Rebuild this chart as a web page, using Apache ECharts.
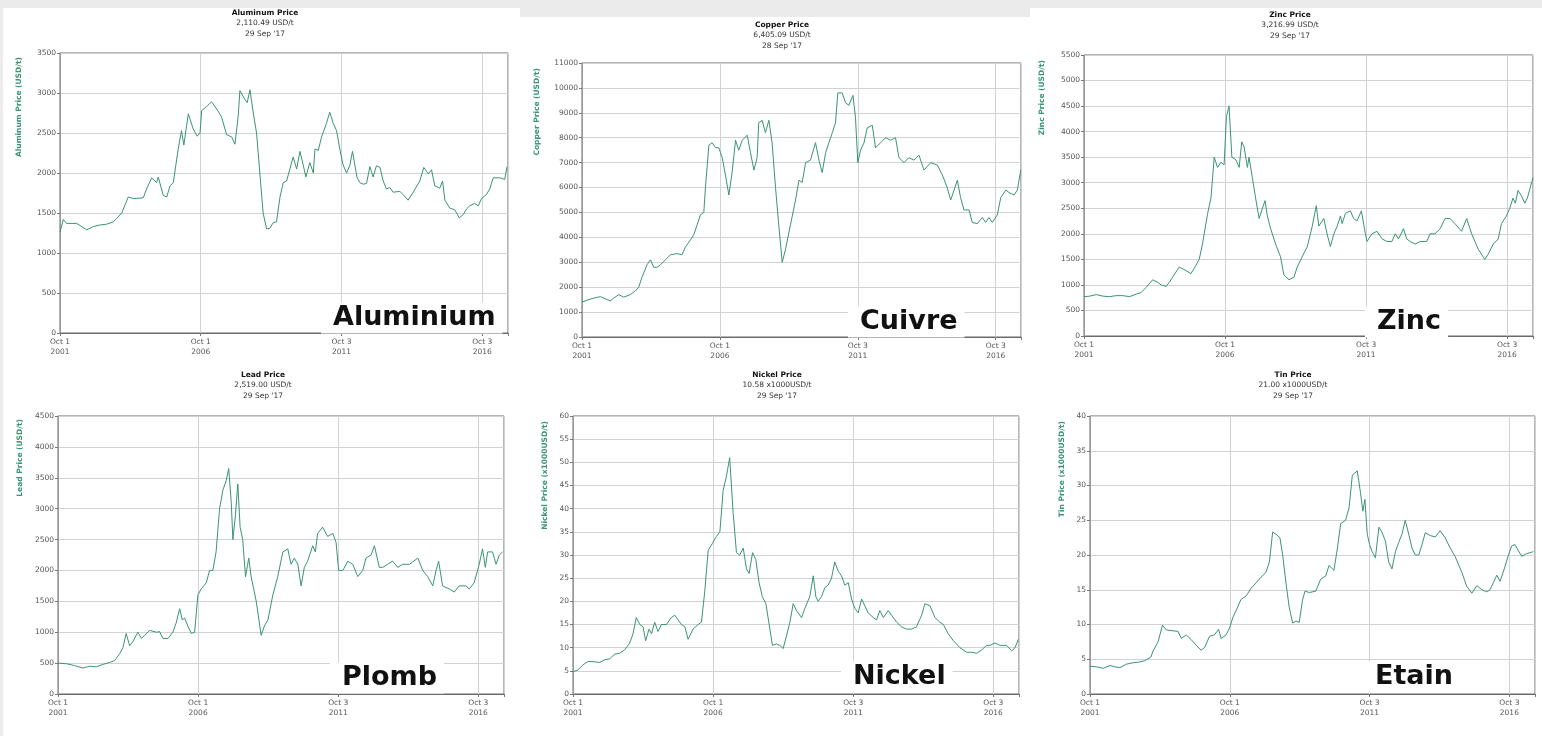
<!DOCTYPE html>
<html>
<head>
<meta charset="utf-8">
<script src="https://cdn.jsdelivr.net/npm/echarts@6/dist/echarts.min.js"></script>
<style>
html,body{margin:0;padding:0;background:#fff;}
#c{width:1542px;height:736px;}
</style>
</head>
<body>
<div id="c"></div>
<script>
// x values are months since 1 Oct 2001
const monthTickLabels = ['Oct 1\n2001', 'Oct 1\n2006', 'Oct 3\n2011', 'Oct 3\n2016'];
const titles = ['Aluminum Price', 'Copper Price', 'Zinc Price', 'Lead Price', 'Nickel Price', 'Tin Price'];
const lastValues = ['2,110.49 USD/t', '6,405.09 USD/t', '3,216.99 USD/t', '2,519.00 USD/t', '10.58 x1000USD/t', '21.00 x1000USD/t'];
const lastDates = ["29 Sep '17", "28 Sep '17", "29 Sep '17", "29 Sep '17", "29 Sep '17", "29 Sep '17"];
const axisNames = ['Aluminum Price (USD/t)', 'Copper Price (USD/t)', 'Zinc Price (USD/t)', 'Lead Price (USD/t)', 'Nickel Price (x1000USD/t)', 'Tin Price (x1000USD/t)'];
const frenchNames = ['Aluminium', 'Cuivre', 'Zinc', 'Plomb', 'Nickel', 'Etain'];
const yMax = [3500, 11000, 5500, 4500, 60, 40];
const yStep = [500, 1000, 500, 500, 5, 5];

const aluminium = [[0,1260],[1.4,1420],[2.8,1370],[7.1,1370],[11.4,1290],[14.2,1330],[17,1350],[19.9,1360],[22.7,1390],[24.1,1430],[26.3,1500],[29.1,1700],[31.3,1680],[35.5,1690],[36.9,1800],[39.1,1940],[41.2,1880],[41.9,1950],[44,1720],[45.5,1700],[46.9,1840],[48.3,1880],[50.4,2300],[51.8,2530],[52.8,2350],[54.7,2740],[56.8,2550],[58.5,2460],[59.7,2500],[60.4,2780],[62.5,2830],[64.6,2890],[66.8,2800],[68.9,2700],[71,2480],[73.2,2450],[74.6,2360],[76,2720],[76.7,3030],[78.8,2920],[79.8,2880],[81,3040],[82.4,2750],[83.8,2500],[85.2,2000],[86.6,1500],[88.1,1300],[89.5,1310],[90.9,1380],[92.3,1390],[93.8,1700],[95.2,1880],[96.6,1900],[98,2050],[99.4,2200],[100.9,2050],[102.3,2270],[103.7,2100],[104.8,1950],[106.5,2130],[108,2000],[108.7,2300],[110.1,2280],[111.5,2450],[113.6,2620],[115,2760],[116.5,2620],[117.9,2530],[119.3,2300],[120.7,2100],[122.2,2000],[123.6,2100],[124.7,2270],[126.6,1950],[127.8,1880],[129.3,1860],[130.7,1870],[132.1,2080],[133.5,1950],[134.9,2090],[136.4,2070],[137.8,1900],[139.2,1800],[140.6,1820],[142,1760],[144.9,1770],[146.3,1730],[148.4,1660],[150.6,1760],[153.4,1900],[155.1,2070],[157,1990],[158.4,2040],[159.8,1840],[161.9,1810],[163.1,1900],[164.1,1660],[166.2,1560],[168.3,1540],[170.2,1440],[171.9,1480],[173.3,1550],[174.7,1590],[176.8,1620],[178.3,1590],[179.7,1680],[181.8,1730],[183.2,1800],[184.7,1940],[187.5,1940],[189.6,1920],[190.6,2080]];

const copper = [[0,1400],[2.2,1480],[5.1,1560],[8,1620],[10.9,1500],[12.3,1450],[13.8,1560],[16,1700],[18.1,1600],[21,1700],[23.2,1850],[24.7,2000],[26.1,2400],[28.3,2900],[29.8,3100],[31.2,2800],[32.7,2800],[34.1,2900],[36.3,3100],[38.5,3300],[41.4,3350],[43.5,3300],[44.9,3600],[47.2,3900],[48.6,4100],[50.1,4500],[51.5,4900],[53,5000],[53.7,6000],[55.2,7700],[56.6,7800],[58.1,7600],[59.5,7600],[61,7200],[62.4,6500],[63.9,5700],[65.3,6600],[66.8,7900],[68.2,7500],[69.7,7900],[71.9,8100],[73.3,7400],[74.8,6700],[76.2,7200],[76.9,8600],[78.4,8700],[79.8,8200],[81.3,8700],[82.7,7800],[84.2,6000],[85.6,4500],[87.1,3000],[88.5,3500],[90.7,4500],[92.9,5500],[94.4,6300],[95.8,6200],[97.3,7000],[99.4,7100],[101.6,7800],[103.1,7100],[104.5,6600],[106,7400],[107.4,7800],[108.9,8200],[110.3,8600],[111.3,9800],[113.2,9800],[114.7,9400],[116.1,9300],[117.9,9700],[119,8800],[120,7000],[121.2,7500],[122.7,7800],[124.1,8400],[126.3,8500],[127.7,7600],[129.9,7800],[132.1,8000],[134.3,7900],[136.4,8000],[137.9,7200],[140.1,7000],[142.2,7200],[144.4,7100],[146.6,7300],[148.8,6700],[151.7,7000],[154.6,6900],[156.8,6500],[158.9,6000],[160.4,5500],[161.9,5900],[163.3,6300],[164.7,5600],[166.2,5100],[168.4,5100],[169.8,4600],[172,4550],[174.2,4800],[175.6,4600],[177.1,4800],[178.5,4600],[180.7,4900],[182.2,5600],[184.4,5900],[185.8,5800],[188,5700],[189.4,5900],[190.9,6700]];

const zinc = [[0,770],[2.4,780],[5.2,810],[8.1,780],[10.9,770],[13.7,790],[16.5,790],[19.4,770],[22.2,820],[24.3,850],[26.4,950],[29.2,1100],[31.4,1050],[32.8,1000],[34.9,970],[36.3,1050],[37.7,1150],[40.5,1350],[43.4,1280],[45.5,1220],[47.6,1380],[49,1500],[50.4,1800],[52.6,2400],[54,2700],[55.4,3500],[56.8,3300],[58.2,3400],[59.6,3350],[60.6,4300],[61.7,4500],[62.9,3500],[64.6,3450],[66,3300],[67.1,3800],[68.1,3700],[69.5,3300],[70.2,3500],[71.6,3100],[73,2700],[74.5,2300],[75.9,2500],[77,2650],[78,2350],[79.4,2100],[81.5,1800],[83.6,1550],[85,1200],[87.2,1100],[89.3,1150],[90.7,1350],[92.8,1550],[95,1750],[97.1,2150],[98.8,2550],[99.9,2150],[102,2300],[103.4,2000],[104.8,1750],[106.3,2000],[107.7,2150],[109.1,2350],[109.8,2200],[111.2,2400],[113.3,2450],[114.7,2300],[116.1,2250],[118,2450],[119.7,2000],[120.4,1850],[122.5,2000],[124.6,2050],[126.8,1900],[128.9,1850],[131,1850],[132.4,2000],[133.8,1900],[135.9,2100],[137.3,1900],[138.7,1850],[140.9,1800],[143,1850],[145.8,1850],[147.2,2000],[149.3,2000],[151.5,2100],[153.6,2300],[155.7,2300],[157.8,2200],[160.6,2050],[162.8,2300],[164.9,2000],[167.7,1700],[170.5,1500],[171.9,1600],[174.1,1800],[176.2,1900],[177.6,2200],[179.7,2350],[181.1,2500],[182.5,2700],[183.5,2600],[184.6,2850],[186,2750],[187.5,2600],[188.6,2700],[191,3100]];

const lead = [[0,500],[3.6,490],[7.1,460],[10.7,420],[13.5,450],[16.4,440],[19.3,480],[22.1,510],[24.2,540],[26.4,650],[27.8,750],[29.2,980],[30.7,780],[32.1,850],[34.2,1000],[35.7,900],[37.1,950],[39.2,1030],[42.1,1000],[43.5,1010],[44.9,900],[47.1,900],[49.2,1000],[50.6,1150],[52.1,1380],[53.2,1200],[54.2,1230],[55.6,1100],[57.1,980],[58.5,1000],[59.9,1600],[61.3,1700],[63.5,1800],[64.9,2000],[66.3,2000],[67.7,2300],[69.2,3000],[70.6,3300],[72,3450],[73.1,3650],[74.2,3100],[74.9,2500],[76,2900],[77,3400],[78,2700],[79.1,2500],[80.3,1900],[81.7,2200],[82.7,1900],[84.9,1500],[87,950],[88.4,1100],[89.9,1200],[92,1600],[94.1,1900],[96.3,2300],[98.4,2350],[99.8,2100],[101.2,2200],[102.7,2100],[104.1,1750],[105.5,2050],[106.9,2150],[109.1,2400],[110.2,2300],[111.2,2600],[113.3,2700],[115.5,2550],[117.7,2600],[119.1,2450],[120.2,2000],[122,2000],[124.1,2150],[126.2,2100],[128.4,1900],[130.5,2000],[131.9,2200],[134.1,2250],[135.5,2400],[137.6,2050],[139.1,2050],[141.2,2100],[143.3,2150],[145.5,2050],[147.6,2100],[150.5,2100],[154.1,2200],[156.2,2000],[158.3,1900],[160.5,1750],[161.9,2000],[163,2150],[164.7,1750],[167.6,1700],[169.7,1650],[171.8,1750],[174.7,1750],[176.1,1700],[178.2,1800],[180.4,2100],[181.8,2350],[183,2050],[184,2300],[186.1,2300],[187.6,2100],[189,2250],[190.4,2300]];

const nickel = [[0,4.8],[2.1,5.2],[4.3,6.3],[6.4,7.0],[8.6,7.0],[11.4,6.8],[13.6,7.4],[15.7,7.6],[17.9,8.6],[20,8.8],[22.1,9.5],[24.3,11],[25.7,13],[27.1,16.5],[28.6,15],[30,14.5],[31.1,11.5],[32.6,14],[33.6,13],[35,15.5],[36.4,13.5],[37.9,15],[40,15],[42.1,16.5],[43.6,17],[45,16],[46.4,15],[47.9,14.5],[49.3,11.8],[51.4,14],[53.6,15],[55,15.5],[56.4,22],[57.9,31],[59.7,32.5],[61.4,34],[62.9,35],[64.3,44],[65.7,47],[67.1,51],[68.6,39],[70,30.5],[71.4,30],[72.9,31.5],[74.3,27],[75.4,26],[76.9,30.5],[78.3,29],[79.7,24],[81.1,21],[82.6,19.5],[84,15],[85.4,10.5],[87.1,10.8],[88.6,10.5],[90,9.8],[91.4,12.5],[92.9,15.5],[94.3,19.5],[95.7,18],[97.9,16.5],[99.3,18.5],[101.4,21],[102.9,25.5],[104,21],[105,20],[106.4,21],[107.9,23],[109.3,23.5],[110.7,25],[112.1,28.5],[113.6,26.5],[115,25.5],[116.4,23.5],[117.9,24],[119.3,20.5],[120.7,18.5],[122.1,17.5],[123.6,20.5],[125,19],[126.4,17.5],[128.6,16.5],[130,16],[131.4,18],[132.9,16.5],[135,18],[136.4,17],[138.6,15.5],[140.7,14.5],[142.9,14],[145,14],[147.1,14.5],[149.3,17],[150.7,19.5],[152.9,19],[155,16.5],[157.1,15.5],[158.6,15],[160.7,13],[162.9,11.5],[165.7,10],[168.6,9],[170.7,9],[172.9,8.8],[175,9.5],[177.1,10.5],[178.6,10.5],[180.7,11],[182.9,10.5],[185.7,10.5],[187.9,9.3],[189.3,10],[190.7,11.8]];

const tin = [[0,4.0],[2.9,3.9],[5.7,3.7],[8.6,4.1],[10.7,3.9],[12.8,3.8],[15.7,4.3],[18.5,4.5],[21.4,4.6],[23.5,4.8],[26.1,5.3],[27.1,6.2],[29.2,7.5],[31.1,9.9],[32.8,9.2],[35.6,9.1],[37.8,9.0],[39.2,8.0],[41.3,8.5],[43.5,7.8],[45.6,7.0],[47.7,6.3],[49.2,6.7],[51.3,8.3],[53.4,8.5],[55.2,9.3],[56.3,8.0],[58.4,8.5],[59.9,9.5],[61.3,11],[62.7,12],[64.8,13.6],[67,14.1],[69.1,15.2],[71.3,16],[73.4,16.8],[75.5,17.5],[77,19],[78.4,23.3],[79.8,23],[81.5,22.5],[82.7,20],[84.1,16],[85.5,12.5],[87,10.2],[88.4,10.5],[89.8,10.3],[91.2,13.5],[92.3,14.8],[94.1,14.6],[96.9,14.8],[99,16.5],[101.2,17],[102.6,18.5],[104.7,17.8],[106.2,21],[107.6,24.5],[109.7,25],[111.2,26.8],[112.6,31.5],[114.7,32.1],[116.1,29],[117.1,26.3],[118,28],[119,23],[120,21.5],[121.1,20.5],[122.5,19.6],[124,24],[125.4,23.2],[126.8,22],[128.2,19],[129.6,18],[131.1,20.5],[132.5,21.8],[133.9,23],[135.3,25],[136.8,23],[138.2,21],[139.6,20],[141.1,20],[142.5,21.5],[143.9,23.2],[146,22.8],[148.2,22.6],[150.3,23.5],[152.4,22.5],[154.6,21],[156.7,19.8],[159.6,17.5],[161.7,15.5],[163.9,14.5],[166,15.6],[168.2,15.0],[170.3,14.7],[171.7,15],[173.1,16],[174.6,17.1],[176,16.2],[178.1,18.3],[179.6,20],[181,21.3],[182.4,21.5],[183.9,20.6],[185.3,19.8],[187.4,20.2],[189.6,20.4],[190.3,20.5]];

const seriesData = [aluminium, copper, zinc, lead, nickel, tin];

// layout (pixels)
const grids = [
  {left: 60, top: 53, width: 448, height: 280},
  {left: 582, top: 63, width: 439, height: 274},
  {left: 1084, top: 55, width: 449, height: 281},
  {left: 58, top: 416, width: 446, height: 278},
  {left: 573, top: 416, width: 446, height: 278},
  {left: 1090, top: 416, width: 445, height: 278}
];
const titlePos = [[265, 13], [782, 25], [1290, 15], [263, 375], [777, 375], [1293, 375]];
const namePos = [[19, 57], [537, 68], [1042, 60], [20, 419], [545, 421], [1062, 421]];
const bigPos = [[333, 318], [860, 322], [1377, 322], [342, 678], [853, 677], [1375, 677]];
const PADL = 12, PADR = 7;

const GREEN = '#3a9570';
const FONT = 'DejaVu Sans';

const option = {
  backgroundColor: '#ffffff',
  animation: false,
  grid: grids.map(g => Object.assign({show: true, borderColor: '#6a6a6a', borderWidth: 1, backgroundColor: '#fff', containLabel: false}, g)),
  xAxis: grids.map((g, i) => ({
    type: 'value', gridIndex: i, min: 0, max: 191, interval: 60,
    axisLine: {show: true, lineStyle: {color: '#6a6a6a'}},
    axisTick: {show: true, length: 3, lineStyle: {color: '#777'}},
    splitLine: {show: true, lineStyle: {color: '#d2d2d2', width: 1}},
    axisLabel: {
      fontFamily: FONT, fontSize: 7.5, color: '#555', lineHeight: 10, margin: 4,
      formatter: v => (v % 60 === 0 ? monthTickLabels[v / 60] : '')
    }
  })),
  yAxis: grids.map((g, i) => ({
    type: 'value', gridIndex: i, min: 0, max: yMax[i], interval: yStep[i],
    axisLine: {show: true, lineStyle: {color: '#999'}},
    axisTick: {show: true, length: 3, lineStyle: {color: '#777'}},
    splitLine: {show: true, lineStyle: {color: '#d2d2d2', width: 1}},
    axisLabel: {fontFamily: FONT, fontSize: 7.5, color: '#555', margin: 4, formatter: v => String(v)}
  })),
  series: seriesData.map((d, i) => ({
    type: 'line', xAxisIndex: i, yAxisIndex: i, data: d,
    showSymbol: false, symbol: 'none',
    lineStyle: {color: GREEN, width: 1},
    itemStyle: {color: GREEN},
    silent: true
  })),
  graphic: []
};

// background strips
option.graphic.push({type: 'rect', shape: {x: 0, y: 0, width: 1542, height: 8}, style: {fill: '#ebebeb'}, z: 0, silent: true});
option.graphic.push({type: 'rect', shape: {x: 520, y: 0, width: 510, height: 17}, style: {fill: '#ebebeb'}, z: 0, silent: true});
option.graphic.push({type: 'rect', shape: {x: 0, y: 0, width: 3, height: 736}, style: {fill: '#ebebeb'}, z: 0, silent: true});

for (let i = 0; i < 6; i++) {
  const [cx, ty] = titlePos[i];
  option.graphic.push({type: 'text', z: 100, silent: true, style: {text: titles[i], x: cx, y: ty, align: 'center', verticalAlign: 'middle', font: 'bold 7.5px ' + FONT, fill: '#111'}});
  option.graphic.push({type: 'text', z: 100, silent: true, style: {text: lastValues[i], x: cx, y: ty + 10.5, align: 'center', verticalAlign: 'middle', font: '7.5px ' + FONT, fill: '#333'}});
  option.graphic.push({type: 'text', z: 100, silent: true, style: {text: lastDates[i], x: cx, y: ty + 21, align: 'center', verticalAlign: 'middle', font: '7.5px ' + FONT, fill: '#333'}});
  const [nx, ny] = namePos[i];
  option.graphic.push({type: 'text', z: 100, silent: true, x: nx, y: ny, rotation: Math.PI / 2,
    style: {text: axisNames[i], x: 0, y: 0, align: 'right', verticalAlign: 'middle', font: 'bold 7.5px ' + FONT, fill: GREEN}});
  const [bx, by] = bigPos[i];
  option.graphic.push({type: 'text', z: 100, silent: true,
    style: {text: frenchNames[i], x: bx - PADL, y: by, align: 'left', verticalAlign: 'middle', font: 'bold 27px ' + FONT, fill: '#111',
      backgroundColor: '#fff', padding: [3, PADR, 1, PADL]}});
}

const chart = echarts.init(document.getElementById('c'), null, {renderer: 'canvas'});
chart.setOption(option);
</script>
</body>
</html>
